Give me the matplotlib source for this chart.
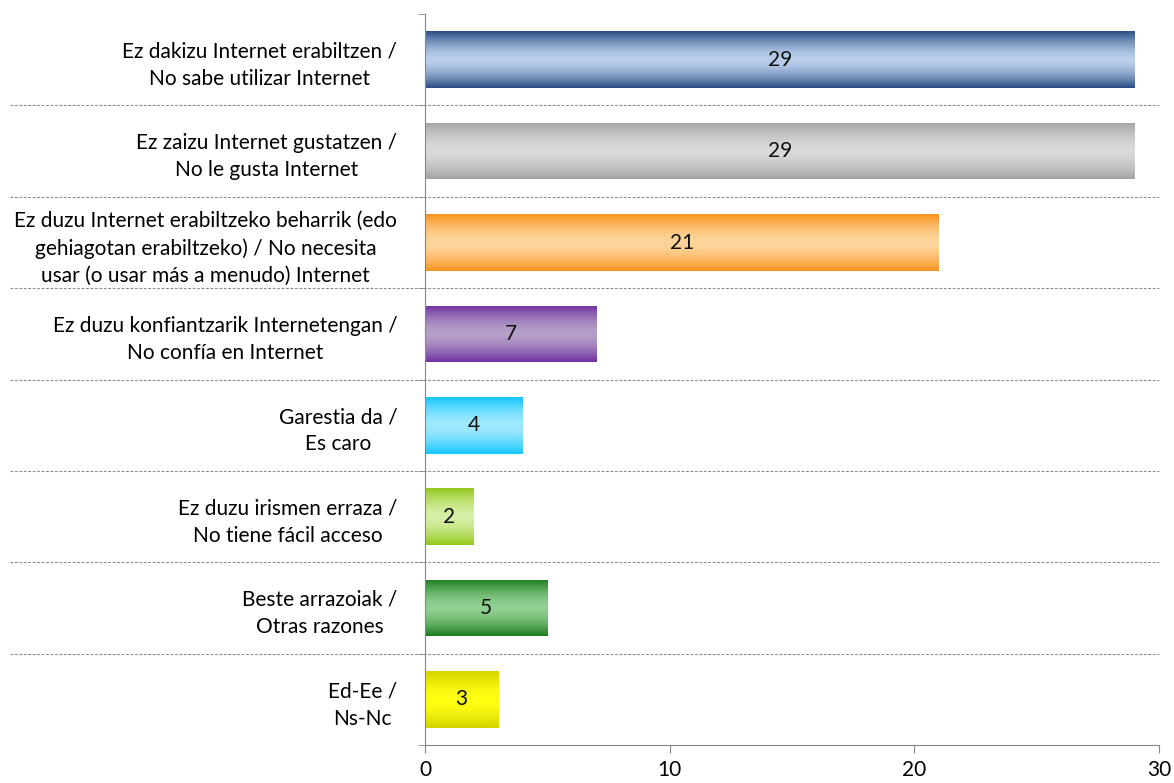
import numpy as np
import matplotlib
matplotlib.use('Agg')
import matplotlib.pyplot as plt
from matplotlib.colors import to_rgb

plt.rcParams['font.family'] = ['Lato', 'DejaVu Sans']

labels = ['Ez dakizu Internet erabiltzen /\nNo sabe utilizar Internet',
          'Ez zaizu Internet gustatzen /\nNo le gusta Internet',
          'Ez duzu Internet erabiltzeko beharrik (edo\ngehiagotan erabiltzeko) / No necesita\nusar (o usar más a menudo) Internet',
          'Ez duzu konfiantzarik Internetengan /\nNo confía en Internet',
          'Garestia da /\nEs caro',
          'Ez duzu irismen erraza /\nNo tiene fácil acceso',
          'Beste arrazoiak /\nOtras razones',
          'Ed-Ee /\nNs-Nc']
values = [29, 29, 21, 7, 4, 2, 5, 3]
edge_cols = ['#2b4f84', '#a3a3a3', '#f7931e', '#7030a0', '#14c6ff', '#93c81c', '#1b7e1b', '#d4d400']
mid_cols = ['#b9cfec', '#dadada', '#fed59c', '#b4a0c9', '#9fe9ff', '#d6efa6', '#92d192', '#ffff10']
xticks = [0, 10, 20, 30]

fig = plt.figure(figsize=(11.74, 7.83), dpi=100)
ax = fig.add_axes([0.362, 0.0485, 0.6252, 0.9335])

n = len(values)
ypos = np.arange(n)
bar_h = 0.62
ax.set_xlim(0, 30)
ax.set_ylim(n - 0.5, -0.5)

t = np.linspace(0, 1, 64)
w = np.abs(2 * t - 1) ** 1.6
for i, v in enumerate(values):
    e = np.array(to_rgb(edge_cols[i]))
    m = np.array(to_rgb(mid_cols[i]))
    grad = (w[:, None] * e + (1 - w[:, None]) * m)[:, None, :]
    y0, y1 = i - bar_h / 2, i + bar_h / 2
    bar = ax.barh(i, v, height=bar_h, color='none', edgecolor='none')[0]
    im = ax.imshow(grad, extent=[0, v, y1, y0], aspect='auto', zorder=2, interpolation='bilinear')
    im.set_clip_path(bar)
    ax.text(v / 2, i, str(v), ha='center', va='center', fontsize=15, color='#111111', zorder=3)

ax.set_ylim(n - 0.5, -0.5)
ax.set_xlim(0, 30)

# dashed separators between categories
for b in np.arange(0.5, n - 0.5, 1):
    ax.plot([-0.565, 1], [b, b], transform=ax.get_yaxis_transform(), ls=(0, (2.5, 1.5)),
            color='#8c8c8c', lw=0.8, clip_on=False, zorder=1)

ax.set_yticks(ypos)
ax.set_yticklabels(labels, fontsize=15)
for lbl in ax.get_yticklabels():
    lbl.set_multialignment('center')
    lbl.set_linespacing(1.45)
ax.tick_params(axis='y', length=0, pad=20)
ax.set_yticks(np.arange(-0.5, n, 1), minor=True)
ax.tick_params(axis='y', which='minor', length=5, color='#868686', direction='out')

ax.set_xticks(xticks)
ax.tick_params(axis='x', labelsize=15, length=6, color='#868686', pad=5)

for s in ['top', 'right']:
    ax.spines[s].set_visible(False)
for s in ['left', 'bottom']:
    ax.spines[s].set_color('#868686')

fig.savefig('out.png', dpi=100)
